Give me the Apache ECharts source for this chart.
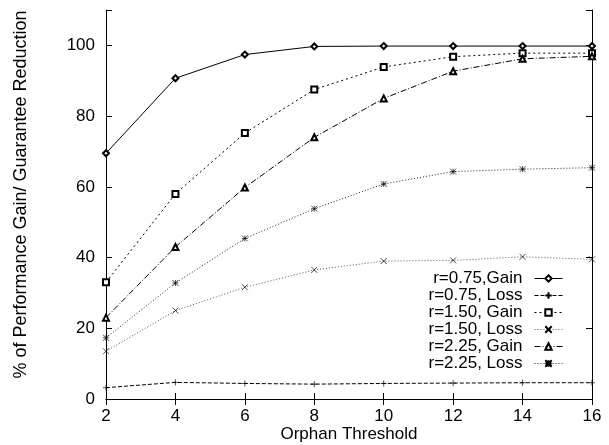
<!DOCTYPE html>
<html>
<head>
<meta charset="utf-8">
<script src="https://cdn.jsdelivr.net/npm/echarts@6/dist/echarts.min.js"></script>
<style>
  html, body { margin: 0; padding: 0; background: #fff; }
  #chart { width: 609px; height: 445px; }
</style>
</head>
<body>
<div id="chart"></div>
<script>
// orphan threshold values on the x axis
const thresholds = [2, 4, 6, 8, 10, 12, 14, 16];
const xTicks = [2, 4, 6, 8, 10, 12, 14, 16];
const yTicks = [0, 20, 40, 60, 80, 100];

const gain075 = [69.5, 90.7, 97.4, 99.7, 99.8, 99.8, 99.8, 99.8];
const loss075 = [3.2, 4.7, 4.4, 4.2, 4.4, 4.5, 4.6, 4.6];
const gain150 = [33, 58, 75.2, 87.5, 93.9, 96.8, 97.8, 97.8];
const loss150 = [13.5, 25, 31.6, 36.5, 39, 39.2, 40.2, 39.5];
const gain225 = [23, 43, 59.8, 74, 85, 92.7, 96.2, 96.9];
const loss225 = [17.3, 32.8, 45.4, 53.8, 60.8, 64.3, 65, 65.4];

const font = "Liberation Sans, Arial, sans-serif";
const plusPath = "path://M0,5L10,5M5,0L5,10";
const crossPath = "path://M0,0L10,10M10,0L0,10";
const starPath = "path://M0,0L10,10M10,0L0,10M0,5L10,5M5,0L5,10";

function pairs(values) {
  return thresholds.map((x, i) => [x, values[i]]);
}

function makeSeries(name, values, symbol, dash, color, builtin) {
  return {
    name: name,
    type: "line",
    data: pairs(values),
    symbol: symbol,
    symbolSize: 6,
    showAllSymbol: true,
    animation: false,
    lineStyle: { color: color, width: 1, type: dash },
    // built-in empty symbols stroke with color; path symbols need a border
    itemStyle: builtin
      ? { color: "#000", borderWidth: 0.7 }
      : { color: "rgba(0,0,0,0)", borderColor: "#000", borderWidth: 0.7 },
  };
}

const chart = echarts.init(document.getElementById("chart"), null, { renderer: "canvas" });

const tickStyle = { show: true, inside: true, length: 6, lineStyle: { color: "#000" } };

chart.setOption({
  backgroundColor: "#fff",
  textStyle: { fontFamily: font },
  grid: { left: 106, right: 17, top: 10, bottom: 46, containLabel: false, outerBoundsMode: "none" },
  legend: {
    orient: "vertical",
    right: 41,
    top: 265,
    align: "right",
    itemGap: 0,
    itemWidth: 28,
    itemHeight: 8,
    lineStyle: { width: 1 },
    textStyle: { fontSize: 17, color: "#000", fontFamily: font, padding: [0, 7, 0, 0] },
    data: ["r=0.75,Gain", "r=0.75, Loss", "r=1.50, Gain", "r=1.50, Loss", "r=2.25, Gain", "r=2.25, Loss"],
  },
  xAxis: [
    {
      type: "value",
      min: 2,
      max: 16,
      interval: 2,
      name: "Orphan Threshold",
      nameLocation: "middle",
      nameGap: 27,
      nameMoveOverlap: false,
      nameTextStyle: { fontSize: 17, color: "#000" },
      axisLine: { lineStyle: { color: "#000", width: 1 } },
      axisTick: tickStyle,
      axisLabel: {
        fontSize: 17, color: "#000", margin: 9,
        formatter: v => (xTicks.includes(v) ? String(v) : ""),
      },
      splitLine: { show: false },
    },
    {
      type: "value",
      position: "top",
      min: 2,
      max: 16,
      interval: 2,
      axisLine: { show: true, lineStyle: { color: "#000", width: 1 } },
      axisTick: tickStyle,
      axisLabel: { show: false },
      splitLine: { show: false },
    },
  ],
  yAxis: [
    {
      type: "value",
      min: 0,
      max: 110,
      interval: 20,
      name: "% of Performance Gain/ Guarantee Reduction",
      nameLocation: "middle",
      nameGap: 76,
      nameTextStyle: { fontSize: 18, color: "#000", padding: [0, 0, 0, 20] },
      axisLine: { show: true, lineStyle: { color: "#000", width: 1 } },
      axisTick: tickStyle,
      axisLabel: {
        fontSize: 17, color: "#000", margin: 11,
        formatter: v => (yTicks.includes(v) ? String(v) : ""),
      },
      splitLine: { show: false },
    },
    {
      type: "value",
      position: "right",
      min: 0,
      max: 110,
      interval: 20,
      axisLine: { show: true, lineStyle: { color: "#000", width: 1 } },
      axisTick: tickStyle,
      axisLabel: { show: false },
      splitLine: { show: false },
    },
  ],
  series: [
    makeSeries("r=0.75,Gain", gain075, "emptyDiamond", "solid", "#000", true),
    makeSeries("r=0.75, Loss", loss075, plusPath, [4, 2], "#000", false),
    makeSeries("r=1.50, Gain", gain150, "emptyRect", [2, 3], "#000", true),
    makeSeries("r=1.50, Loss", loss150, crossPath, [1, 2], "#555", false),
    makeSeries("r=2.25, Gain", gain225, "emptyTriangle", [6, 2, 1, 2], "#000", true),
    makeSeries("r=2.25, Loss", loss225, starPath, [1, 2], "#222", false),
  ],
});
</script>
</body>
</html>
